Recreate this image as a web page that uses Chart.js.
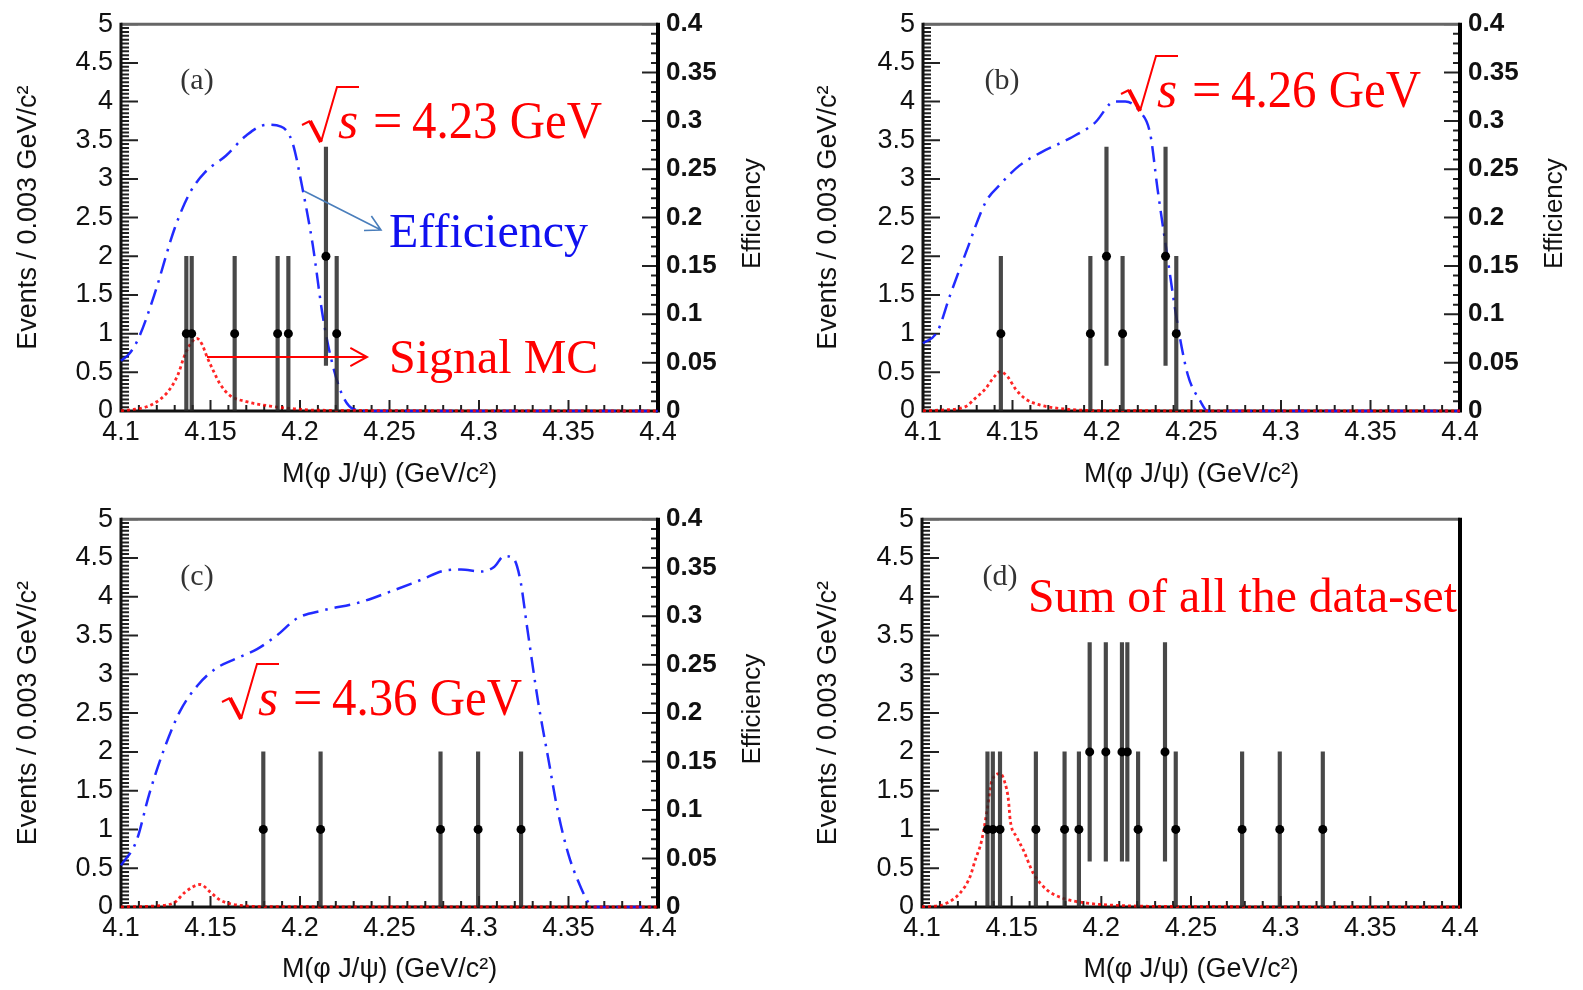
<!DOCTYPE html>
<html>
<head>
<meta charset="utf-8">
<script src="https://cdn.jsdelivr.net/npm/chart.js@4.4.0/dist/chart.umd.min.js"></script>
<style>
  body { margin: 0; background: #fff; width: 1583px; height: 990px; overflow: hidden; }
  canvas { position: absolute; }
</style>
</head>
<body>
<canvas id="panel-a" width="791" height="495" style="left:0;top:0"></canvas>
<canvas id="panel-b" width="783" height="495" style="left:800px;top:0"></canvas>
<canvas id="panel-c" width="791" height="495" style="left:0;top:495px"></canvas>
<canvas id="panel-d" width="783" height="495" style="left:800px;top:495px"></canvas>
<script>
// axis ticks
const xTickVals = [4.1, 4.15, 4.2, 4.25, 4.3, 4.35, 4.4];
const xTickLabels = ['4.1', '4.15', '4.2', '4.25', '4.3', '4.35', '4.4'];
const yTickVals = [0, 0.5, 1, 1.5, 2, 2.5, 3, 3.5, 4, 4.5, 5];
const yTickLabels = ['0', '0.5', '1', '1.5', '2', '2.5', '3', '3.5', '4', '4.5', '5'];
const effTickVals = [0, 0.05, 0.1, 0.15, 0.2, 0.25, 0.3, 0.35, 0.4];
const effTickLabels = ['0', '0.05', '0.1', '0.15', '0.2', '0.25', '0.3', '0.35', '0.4'];

// (a) sqrt(s) = 4.23 GeV
const massA = [4.1365, 4.1395, 4.1635, 4.1875, 4.1935, 4.2145, 4.2205];
const countsA = [1, 1, 1, 1, 1, 2, 1];
const errA = [1, 1, 1, 1, 1, 1.41, 1];
const sigXA = [4.100, 4.107, 4.1143, 4.120, 4.1255, 4.1292, 4.132, 4.1348, 4.1367, 4.1395, 4.1423, 4.1451, 4.1482, 4.1516, 4.1553, 4.1609, 4.1702, 4.1832, 4.196, 4.21, 4.4];
const sigYA = [0.005, 0.02, 0.055, 0.12, 0.23, 0.35, 0.48, 0.67, 0.78, 0.89, 0.94, 0.87, 0.69, 0.52, 0.35, 0.2, 0.12, 0.064, 0.03, 0.01, 0];
const effXA = [4.100, 4.105, 4.110, 4.1186, 4.130, 4.1386, 4.147, 4.1586, 4.170, 4.1814, 4.1894, 4.1957, 4.2014, 4.2071, 4.2129, 4.2186, 4.2243, 4.230, 4.240, 4.4];
const effYA = [0.052, 0.060, 0.076, 0.120, 0.189, 0.226, 0.247, 0.264, 0.285, 0.296, 0.294, 0.278, 0.230, 0.172, 0.096, 0.045, 0.014, 0.002, 0, 0];

// (b) sqrt(s) = 4.26 GeV
const massB = [4.1435, 4.1935, 4.2025, 4.2115, 4.2355, 4.2415];
const countsB = [1, 1, 2, 1, 2, 1];
const errB = [1, 1, 1.41, 1, 1.41, 1];
const sigXB = [4.100, 4.110, 4.1237, 4.129, 4.135, 4.139, 4.1432, 4.1474, 4.1515, 4.157, 4.1655, 4.179, 4.199, 4.4];
const sigYB = [0.003, 0.012, 0.056, 0.16, 0.29, 0.42, 0.51, 0.44, 0.29, 0.16, 0.077, 0.026, 0.005, 0];
const effXB = [4.100, 4.108, 4.115, 4.124, 4.135, 4.143, 4.154, 4.1655, 4.182, 4.196, 4.207, 4.213, 4.221, 4.227, 4.231, 4.2365, 4.242, 4.248, 4.255, 4.259, 4.4];
const effYB = [0.070, 0.082, 0.119, 0.164, 0.216, 0.234, 0.254, 0.267, 0.282, 0.298, 0.320, 0.320, 0.310, 0.286, 0.230, 0.160, 0.092, 0.037, 0.010, 0, 0];

// (c) sqrt(s) = 4.36 GeV
const massC = [4.1795, 4.2115, 4.2785, 4.2995, 4.3235];
const countsC = [1, 1, 1, 1, 1];
const errC = [1, 1, 1, 1, 1];
const sigXC = [4.100, 4.120, 4.130, 4.1357, 4.1443, 4.150, 4.1557, 4.167, 4.185, 4.4];
const sigYC = [0.002, 0.015, 0.06, 0.19, 0.29, 0.19, 0.085, 0.02, 0.004, 0];
const effXC = [4.100, 4.1086, 4.1157, 4.1243, 4.133, 4.143, 4.153, 4.164, 4.176, 4.187, 4.1986, 4.213, 4.233, 4.250, 4.267, 4.281, 4.290, 4.301, 4.3086, 4.314, 4.319, 4.323, 4.327, 4.333, 4.339, 4.344, 4.350, 4.356, 4.361, 4.364, 4.4];
const effYC = [0.043, 0.068, 0.116, 0.164, 0.202, 0.229, 0.246, 0.256, 0.266, 0.280, 0.298, 0.306, 0.314, 0.325, 0.337, 0.347, 0.348, 0.346, 0.351, 0.362, 0.360, 0.338, 0.287, 0.212, 0.150, 0.099, 0.054, 0.024, 0.005, 0, 0];

// (d) all data sets summed
const massD = [4.1365, 4.1395, 4.1435, 4.1635, 4.1795, 4.1875, 4.1935, 4.2025, 4.2115, 4.2145, 4.2205, 4.2355, 4.2415, 4.2785, 4.2995, 4.3235];
const countsD = [1, 1, 1, 1, 1, 1, 2, 2, 2, 2, 1, 2, 1, 1, 1, 1];
const errD = [1, 1, 1, 1, 1, 1, 1.41, 1.41, 1.41, 1.41, 1, 1.41, 1, 1, 1, 1];
const sigXD = [4.100, 4.107, 4.1138, 4.1212, 4.1268, 4.1296, 4.1333, 4.1361, 4.139, 4.1436, 4.1464, 4.1482, 4.1492, 4.1529, 4.1566, 4.1622, 4.1697, 4.179, 4.192, 4.21, 4.25, 4.4];
const sigYD = [0.005, 0.01, 0.05, 0.18, 0.39, 0.6, 0.86, 1.22, 1.63, 1.72, 1.59, 1.38, 1.12, 0.9, 0.73, 0.43, 0.22, 0.11, 0.05, 0.02, 0.005, 0];

const SANS = '"Liberation Sans", Arial, sans-serif';
const SERIF = '"Liberation Serif", "Times New Roman", serif';
const RED = '#ff0000';

// stretch a string to a given width
function fitText(ctx, text, x, y, width) {
  const w = ctx.measureText(text).width;
  ctx.save();
  ctx.translate(x, y);
  ctx.scale(width / w, 1);
  ctx.fillText(text, 0, 0);
  ctx.restore();
}

function panelTag(ctx, text, x, y) {
  ctx.save();
  ctx.font = '30px ' + SERIF;
  ctx.fillStyle = '#333';
  ctx.textAlign = 'center';
  ctx.textBaseline = 'middle';
  ctx.fillText(text, x, y);
  ctx.restore();
}

// "√s = E GeV" in red
function rootLabel(ctx, x0, base, text) {
  ctx.save();
  ctx.strokeStyle = RED;
  ctx.fillStyle = RED;
  ctx.lineJoin = 'miter';
  ctx.lineWidth = 2;
  ctx.beginPath();
  ctx.moveTo(x0, base - 13);
  ctx.lineTo(x0 + 8, base - 17);
  ctx.stroke();
  ctx.lineWidth = 4;
  ctx.beginPath();
  ctx.moveTo(x0 + 8, base - 17);
  ctx.lineTo(x0 + 19, base + 4);
  ctx.stroke();
  ctx.lineWidth = 2;
  ctx.beginPath();
  ctx.moveTo(x0 + 19, base + 4);
  ctx.lineTo(x0 + 35, base - 51);
  ctx.lineTo(x0 + 57, base - 51);
  ctx.stroke();
  ctx.textBaseline = 'alphabetic';
  ctx.font = 'italic 52px ' + SERIF;
  ctx.fillText('s', x0 + 36, base);
  ctx.font = '52px ' + SERIF;
  ctx.fillText('=', x0 + 71, base);
  fitText(ctx, text, x0 + 110, base, 190);
  ctx.restore();
}

function arrow(ctx, x1, y1, x2, y2, color, lw, head) {
  const ang = Math.atan2(y2 - y1, x2 - x1);
  ctx.save();
  ctx.strokeStyle = color;
  ctx.lineWidth = lw;
  ctx.beginPath();
  ctx.moveTo(x1, y1);
  ctx.lineTo(x2, y2);
  ctx.moveTo(x2 - head * Math.cos(ang - 0.5), y2 - head * Math.sin(ang - 0.5));
  ctx.lineTo(x2, y2);
  ctx.lineTo(x2 - head * Math.cos(ang + 0.5), y2 - head * Math.sin(ang + 0.5));
  ctx.stroke();
  ctx.restore();
}

function framePlugin(p) {
  return {
    id: 'rootFrame',
    beforeDatasetsDraw(chart) {
      const {ctx, chartArea: a, scales} = chart;
      ctx.save();
      ctx.strokeStyle = '#222';
      ctx.lineWidth = 2;
      ctx.beginPath();
      for (let i = 0; i <= 100; i++) {
        const y = scales.y.getPixelForValue(i * 0.05);
        const len = i % 10 === 0 ? 17 : 8;
        ctx.moveTo(a.left, y);
        ctx.lineTo(a.left + len, y);
      }
      for (let i = 0; i <= 30; i++) {
        const x = scales.x.getPixelForValue(4.1 + i * 0.01);
        const len = i % 5 === 0 ? 11 : 6;
        ctx.moveTo(x, a.bottom);
        ctx.lineTo(x, a.bottom - len);
      }
      if (p.effX) {
        for (let i = 0; i <= 40; i++) {
          const y = scales.y2.getPixelForValue(i * 0.01);
          const len = i % 5 === 0 ? 16 : 7;
          ctx.moveTo(a.right, y);
          ctx.lineTo(a.right - len, y);
        }
      }
      ctx.stroke();

      // box
      ctx.lineWidth = 3;
      ctx.strokeStyle = '#666';
      ctx.beginPath();
      ctx.moveTo(a.left, a.top);
      ctx.lineTo(a.right, a.top);
      ctx.stroke();
      ctx.strokeStyle = '#111';
      ctx.beginPath();
      ctx.moveTo(a.left, a.top - 1.5);
      ctx.lineTo(a.left, a.bottom);
      ctx.lineTo(a.right, a.bottom);
      ctx.stroke();
      ctx.lineWidth = 4;
      ctx.strokeStyle = '#000';
      ctx.beginPath();
      ctx.moveTo(a.right, a.top - 1.5);
      ctx.lineTo(a.right, a.bottom + 1.5);
      ctx.stroke();
      ctx.restore();
    },
    afterDraw(chart) {
      const {ctx, chartArea: a} = chart;
      if (p.effX) {
        ctx.save();
        ctx.translate(a.right + 95, (a.top + a.bottom) / 2 - 4);
        ctx.rotate(-Math.PI / 2);
        ctx.font = '26px ' + SANS;
        ctx.fillStyle = '#111';
        ctx.textAlign = 'center';
        ctx.textBaseline = 'middle';
        ctx.fillText('Efficiency', 0, 0);
        ctx.restore();
      }
      p.decorate(ctx, chart);
    }
  };
}

function makePanel(id, p) {
  const datasets = [
    {
      type: 'scatter',
      data: p.mass.map((m, i) => ({x: m, y: p.counts[i]})),
      pointRadius: 4.5,
      pointBackgroundColor: '#000',
      pointBorderWidth: 0,
      yAxisID: 'y'
    },
    {
      type: 'bar',
      data: p.mass.map((m, i) => ({x: m, y: [p.counts[i] - p.err[i], p.counts[i] + p.err[i]]})),
      backgroundColor: 'rgba(40,40,40,0.85)',
      borderWidth: 0,
      barThickness: 3.5,
      yAxisID: 'y'
    },
    {
      type: 'line',
      data: p.sigX.map((m, i) => ({x: m, y: p.sigY[i]})),
      borderColor: 'rgba(255,0,0,0.85)',
      borderWidth: 2.8,
      borderDash: [3, 3],
      pointRadius: 0,
      cubicInterpolationMode: 'monotone',
      clip: 6,
      yAxisID: 'y'
    }
  ];

  const tickFont = {family: SANS, size: 27};
  const scales = {
    x: {
      type: 'linear', min: 4.1, max: 4.4, offset: false,
      grid: {display: false, drawTicks: false}, border: {display: false},
      afterBuildTicks: s => { s.ticks = xTickVals.map(v => ({value: v})); },
      afterFit: s => { s.height = p.xH; },
      ticks: {
        font: tickFont, color: '#111', padding: 5, maxRotation: 0, autoSkip: false,
        callback: (v, i) => xTickLabels[i]
      },
      title: {
        display: true, text: 'M(φ J/ψ) (GeV/c²)', color: '#111',
        font: {family: SANS, size: 27}, padding: {top: 0, bottom: 4}
      }
    },
    y: {
      type: 'linear', position: 'left', min: 0, max: 5,
      grid: {display: false, drawTicks: false}, border: {display: false},
      afterBuildTicks: s => { s.ticks = yTickVals.map(v => ({value: v})); },
      afterFit: s => { s.width = p.yW; },
      ticks: {font: tickFont, color: '#111', padding: 8, callback: (v, i) => yTickLabels[i]},
      title: {
        display: true, text: 'Events / 0.003 GeV/c²', color: '#111',
        font: {family: SANS, size: 27}, padding: {top: 12, bottom: 0}
      }
    }
  };

  if (p.effX) {
    datasets.push({
      type: 'line',
      data: p.effX.map((m, i) => ({x: m, y: p.effY[i]})),
      borderColor: 'rgba(15,25,255,0.92)',
      borderWidth: 2.5,
      borderDash: [16, 7, 2.5, 7],
      pointRadius: 0,
      cubicInterpolationMode: 'monotone',
      clip: 6,
      yAxisID: 'y2'
    });
    scales.y2 = {
      type: 'linear', position: 'right', min: 0, max: 0.4,
      grid: {display: false, drawTicks: false}, border: {display: false},
      afterBuildTicks: s => { s.ticks = effTickVals.map(v => ({value: v})); },
      afterFit: s => { s.width = p.y2W; },
      ticks: {
        font: {family: SANS, size: 26, weight: 'bold'}, color: '#111', padding: 8,
        callback: (v, i) => effTickLabels[i]
      }
    };
  }

  new Chart(document.getElementById(id), {
    type: 'scatter',
    data: {datasets},
    options: {
      responsive: false,
      animation: false,
      devicePixelRatio: 1,
      events: [],
      layout: {padding: {top: p.top, left: 0, right: p.effX ? 0 : p.rightPad, bottom: 0}},
      plugins: {legend: {display: false}, tooltip: {enabled: false}},
      scales
    },
    plugins: [framePlugin(p)]
  });
}

makePanel('panel-a', {
  mass: massA, counts: countsA, err: errA, sigX: sigXA, sigY: sigYA, effX: effXA, effY: effYA,
  yW: 121, y2W: 133, top: 20, xH: 84,
  decorate(ctx) {
    panelTag(ctx, '(a)', 197, 81);
    rootLabel(ctx, 302, 138, '4.23 GeV');
    ctx.save();
    ctx.font = '48px ' + SERIF;
    ctx.fillStyle = '#1010f0';
    ctx.fillText('Efficiency', 389, 247);
    ctx.fillStyle = RED;
    ctx.fillText('Signal MC', 389, 373);
    ctx.restore();
    arrow(ctx, 304, 191, 381, 230, '#4a7ebb', 1.6, 17);
    arrow(ctx, 207, 357, 367, 357, RED, 2, 19);
  }
});

makePanel('panel-b', {
  mass: massB, counts: countsB, err: errB, sigX: sigXB, sigY: sigYB, effX: effXB, effY: effYB,
  yW: 123, y2W: 123, top: 20, xH: 84,
  decorate(ctx) {
    panelTag(ctx, '(b)', 202, 81);
    rootLabel(ctx, 321, 107, '4.26 GeV');
  }
});

makePanel('panel-c', {
  mass: massC, counts: countsC, err: errC, sigX: sigXC, sigY: sigYC, effX: effXC, effY: effYC,
  yW: 121, y2W: 133, top: 23, xH: 83,
  decorate(ctx) {
    panelTag(ctx, '(c)', 197, 82);
    rootLabel(ctx, 222, 220, '4.36 GeV');
  }
});

makePanel('panel-d', {
  mass: massD, counts: countsD, err: errD, sigX: sigXD, sigY: sigYD,
  yW: 122, rightPad: 123, top: 23, xH: 83,
  decorate(ctx) {
    panelTag(ctx, '(d)', 200, 82);
    ctx.save();
    ctx.font = '48px ' + SERIF;
    ctx.fillStyle = RED;
    fitText(ctx, 'Sum of all the data-set', 228, 117, 429);
    ctx.restore();
  }
});
</script>
</body>
</html>
